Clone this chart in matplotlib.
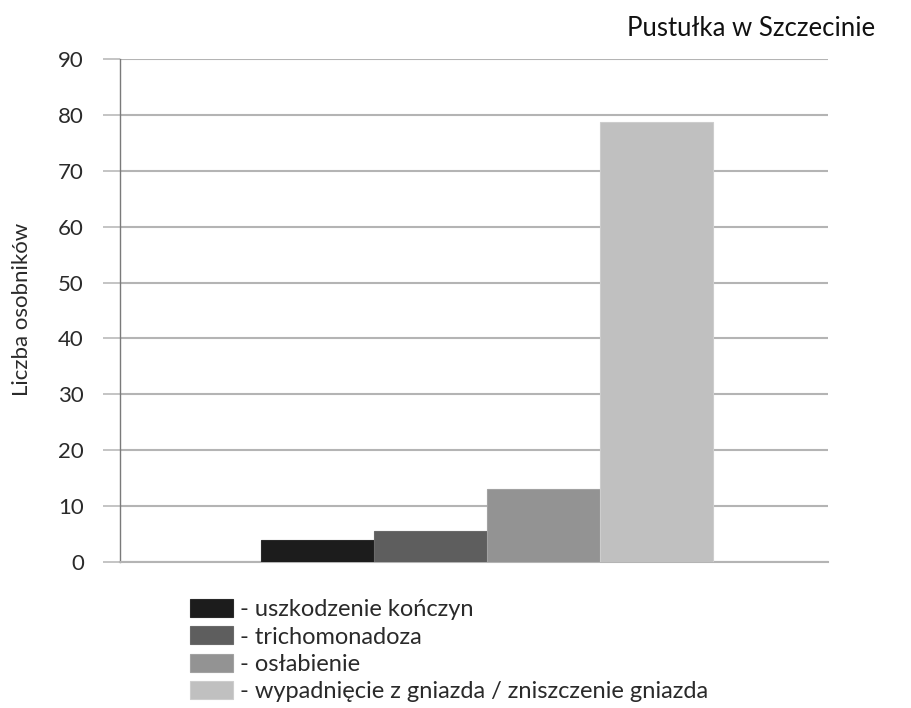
import matplotlib
matplotlib.use("Agg")
import matplotlib.pyplot as plt

plt.rcParams['font.family'] = ['Lato', 'DejaVu Sans']

title = "Pustułka w Szczecinie"
y_label = "Liczba osobników"
categories = [
    "uszkodzenie kończyn",
    "trichomonadoza",
    "osłabienie",
    "wypadnięcie z gniazda / zniszczenie gniazda",
]
values = [4.0, 5.5, 13.0, 78.7]
colors = ["#1c1c1c", "#5e5e5e", "#939393", "#c0c0c0"]
edges = ["#2a2a2a", "#6a6a6a", "#a2a2a2", "#cdcdcd"]
y_ticks = [0, 10, 20, 30, 40, 50, 60, 70, 80, 90]

W, H = 912, 708
fig = plt.figure(figsize=(W / 100, H / 100), dpi=100)
ax = fig.add_axes([120 / W, 1 - 562 / H, (828 - 120) / W, (562 - 59) / H])

x = list(range(len(values)))
for xi, v, c, e, lab in zip(x, values, colors, edges, categories):
    ax.bar(xi, v, width=1.0, color=c, edgecolor=e, linewidth=0.8,
           label="- " + lab, zorder=3)

ax.set_xlim(-0.5 - 141 / 113, 3.5 + 115 / 113)
ax.set_ylim(0, 90)
ax.set_yticks(y_ticks)
ax.set_xticks([])
ax.yaxis.grid(True, color="#b4b4b4", linewidth=1.5, zorder=0)
ax.set_axisbelow(True)
for s in ["top", "right"]:
    ax.spines[s].set_visible(False)
ax.spines["bottom"].set_color("#b4b4b4")
ax.spines["bottom"].set_linewidth(1.5)
ax.spines["left"].set_color("#7a7a7a")
ax.spines["left"].set_linewidth(1.0)
ax.tick_params(axis="y", length=12, width=1.1, color="#b4b4b4",
               pad=14, labelsize=16, labelcolor="#2a2a2a")

fig.text(22 / W, 1 - 309 / H, y_label, rotation=90, ha="center", va="center",
         fontsize=16, color="#2a2a2a")
fig.text(751 / W, 1 - 29 / H, title, ha="center", va="center",
         fontsize=18.5, color="#111111")

leg = ax.legend(loc="upper left", bbox_to_anchor=(190 / W, 1 - 599 / H),
                bbox_transform=fig.transFigure, frameon=False, fontsize=17,
                handlelength=1.82, handleheight=0.8, handletextpad=0.3,
                labelspacing=0.26, borderpad=0, borderaxespad=0)
for t in leg.get_texts():
    t.set_color("#2a2a2a")

fig.savefig("out.png", dpi=100)
